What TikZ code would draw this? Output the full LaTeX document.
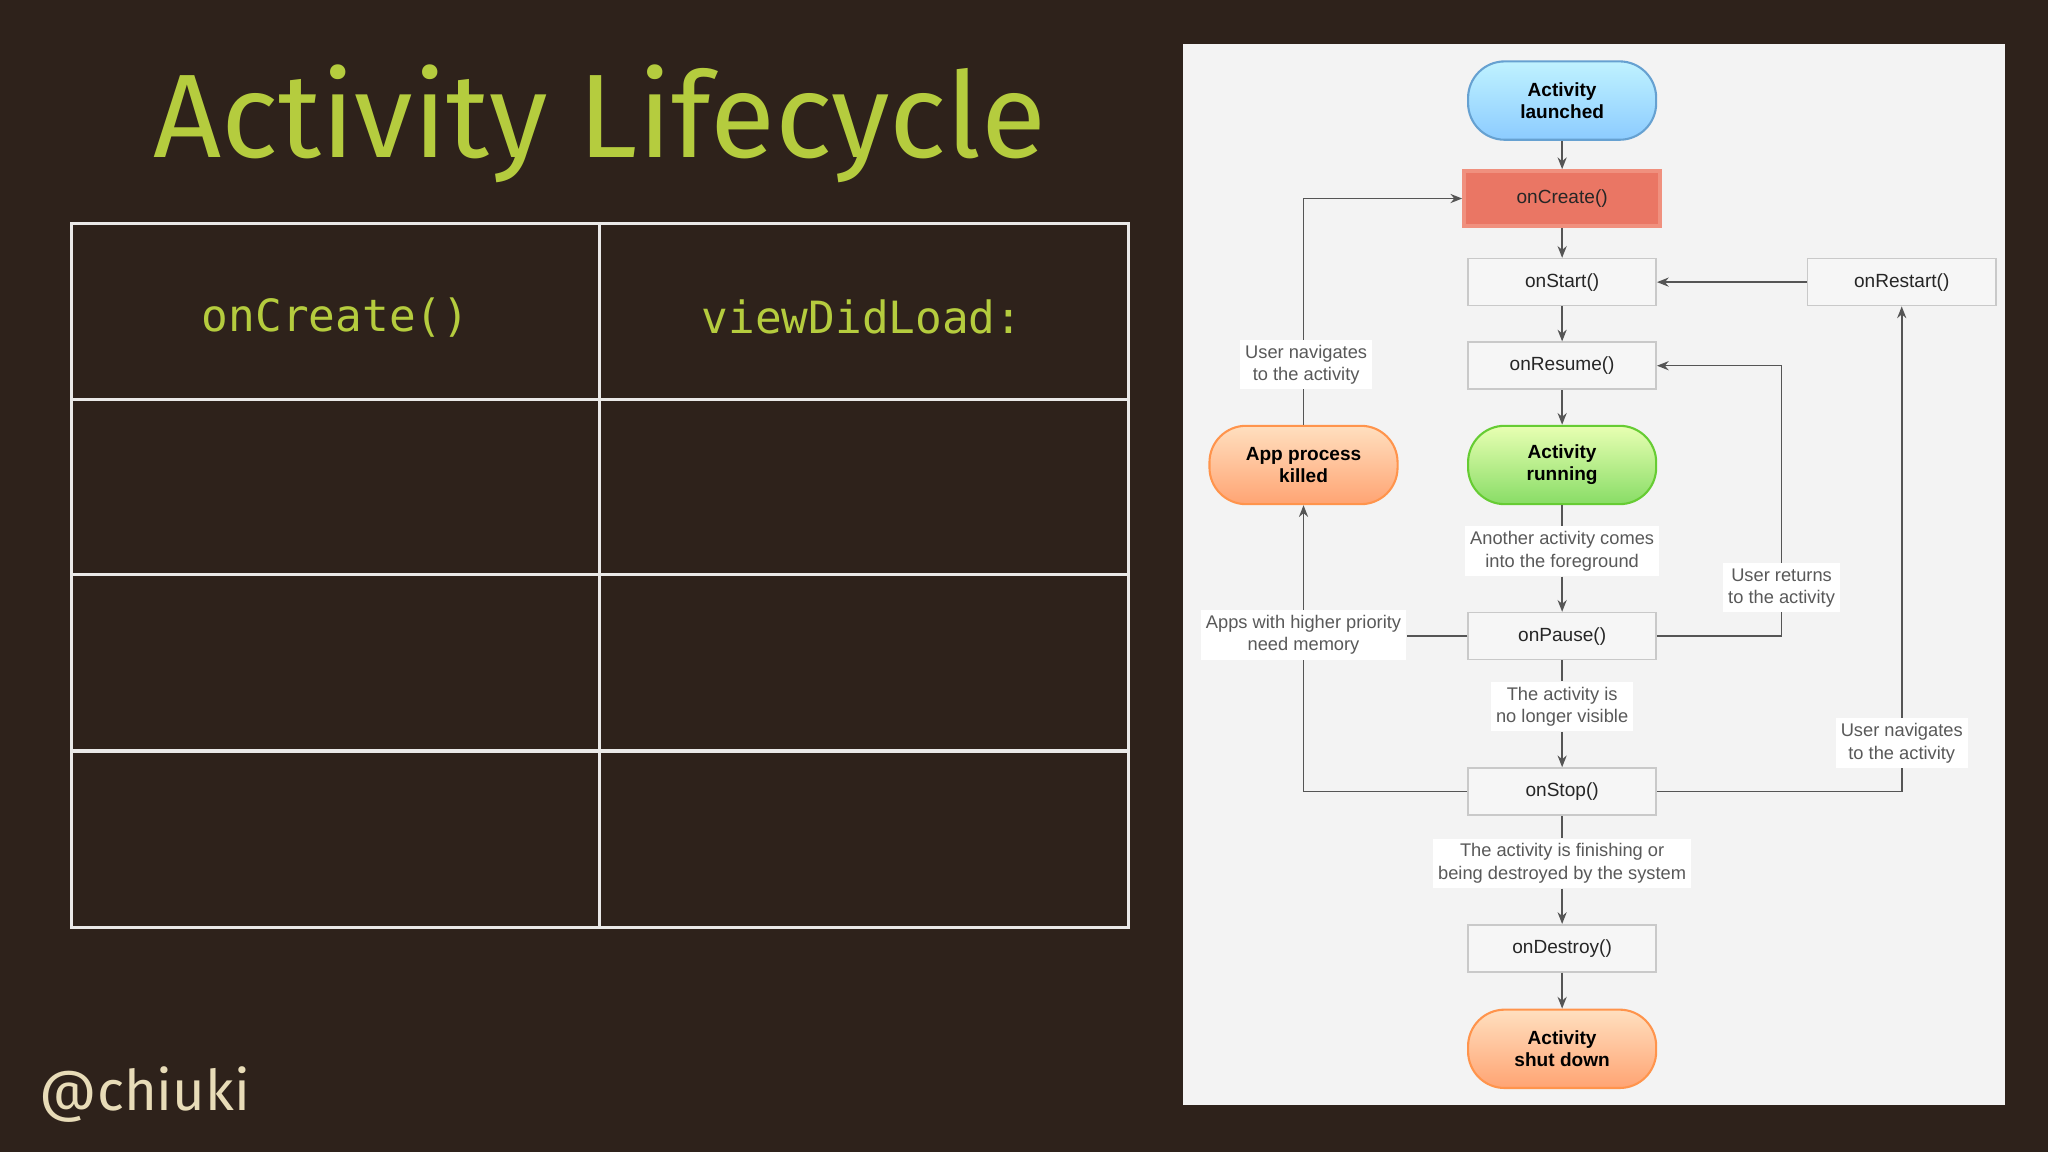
\documentclass[tikz,border=0pt]{standalone}
\usepackage{fontspec}
\setmainfont{Liberation Sans}
\newfontfamily\titlefont{Fira Sans}
\newfontfamily\monofont{DejaVu Sans Mono}
\usetikzlibrary{arrows.meta}
\definecolor{bg}{HTML}{2E221B}
\definecolor{ttl}{HTML}{B5CC3E}
\definecolor{handle}{HTML}{E8DCB8}
\definecolor{panel}{HTML}{F3F3F3}
\definecolor{bx}{HTML}{F6F6F6}
\definecolor{bxd}{HTML}{C9C9C9}
\definecolor{ln}{HTML}{555555}
\definecolor{crf}{HTML}{EA7664}
\definecolor{crd}{HTML}{F0907E}
\tikzset{
 x=0.5pt, y=-0.5pt,
 box/.style={draw=bxd, fill=bx, line width=0.6pt, minimum width=72pt, minimum height=18pt, font=\fontsize{7.3}{9}\selectfont, text=black!85},
 pill/.style={rounded corners=14pt, line width=0.8pt, minimum width=72pt, minimum height=30pt, align=center, font=\fontsize{7.3}{8.5}\selectfont\bfseries},
 lbl/.style={fill=white, align=center, font=\fontsize{7}{8.5}\selectfont, text=black!65, inner sep=2pt},
 con/.style={draw=ln, line width=0.6pt},
 arr/.style={con, -{Stealth[length=4.5pt,width=3.5pt]}},
 tab/.style={draw=white!90!bg, line width=1.2pt}
}
\begin{document}
\begin{tikzpicture}
\fill[bg] (0,0) rectangle (1568,882);
\useasboundingbox (0,0) rectangle (1568,882);
\node[text=ttl, font=\titlefont\fontsize{45.5}{50}\selectfont] (title) at (459,95) {Activity Lifecycle};
\node[text=handle, font=\titlefont\fontsize{21.5}{24}\selectfont] (handle) at (111,838) {@chiuki};
% table
\draw[tab] (55,171) rectangle (864,710);
\draw[tab] (459,171) -- (459,710);
\foreach \yy in {306,440,575} \draw[tab] (55,\yy) -- (864,\yy);
\node[text=ttl, font=\monofont\fontsize{17}{20}\selectfont] (c1) at (257,243) {onCreate()};
\node[text=ttl, font=\monofont\fontsize{17}{20}\selectfont] (c2) at (660,243) {viewDidLoad:};
% panel
\fill[panel] (906,34) rectangle (1535,846);
\node[pill, draw=blue!45!cyan!70!black!60, top color=blue!20!cyan!25, bottom color=blue!45!cyan!45] (launch) at (1196,77) {Activity\\launched};
\node[box, draw=crd, fill=crf, line width=1.5pt, minimum width=75pt, minimum height=21pt] (create) at (1196,152) {onCreate()};
\node[box] (start) at (1196,216) {onStart()};
\node[box] (restart) at (1456,216) {onRestart()};
\node[box] (resume) at (1196,280) {onResume()};
\node[pill, draw=green!50!olive!80, top color=green!30!yellow!30!white, bottom color=green!55!olive!60!white] (run) at (1196,356) {Activity\\running};
\node[pill, draw=orange!80!red!70, top color=orange!25!white, bottom color=orange!70!red!55!white] (killed) at (998,356) {App process\\killed};
\node[lbl] (l1) at (1196,422) {Another activity comes\\into the foreground};
\node[box] (pause) at (1196,487) {onPause()};
\node[lbl] (l2) at (1196,541) {The activity is\\no longer visible};
\node[box] (stop) at (1196,606) {onStop()};
\node[lbl] (l3) at (1196,661) {The activity is finishing or\\being destroyed by the system};
\node[box] (destroy) at (1196,726) {onDestroy()};
\node[pill, draw=orange!80!red!70, top color=orange!25!white, bottom color=orange!70!red!55!white] (shut) at (1196,803) {Activity\\shut down};
% connectors
\draw[arr] (launch) -- (create);
\draw[arr] (create) -- (start);
\draw[arr] (start) -- (resume);
\draw[arr] (resume) -- (run);
\draw[con] (run) -- (l1); \draw[arr] (l1) -- (pause);
\draw[con] (pause) -- (l2); \draw[arr] (l2) -- (stop);
\draw[con] (stop) -- (l3); \draw[arr] (l3) -- (destroy);
\draw[arr] (destroy) -- (shut);
\draw[arr] (restart) -- (start);
\coordinate (pr) at (1364,487); \coordinate (rr) at (1364,280);
\draw[arr] (pause.east) -- (pr) -- (rr) -- (resume.east);
\coordinate (sr) at (1456,606);
\draw[arr] (stop.east) -- (sr) -- (restart.south);
\coordinate (sl) at (998,606);
\draw[arr] (stop.west) -- (sl) -- (killed.south);
\coordinate (kt) at (998,152);
\draw[arr] (killed.north) -- (kt) -- (create.west);
\node[lbl] (l4) at (1000,279) {User navigates\\to the activity};
\node[lbl] (l5) at (998,486) {Apps with higher priority\\need memory};
\draw[con] (pause.west) -- (pause.west -| l5.east);
\node[lbl] (l6) at (1364,450) {User returns\\to the activity};
\node[lbl] (l7) at (1456,569) {User navigates\\to the activity};
\end{tikzpicture}
\end{document}
